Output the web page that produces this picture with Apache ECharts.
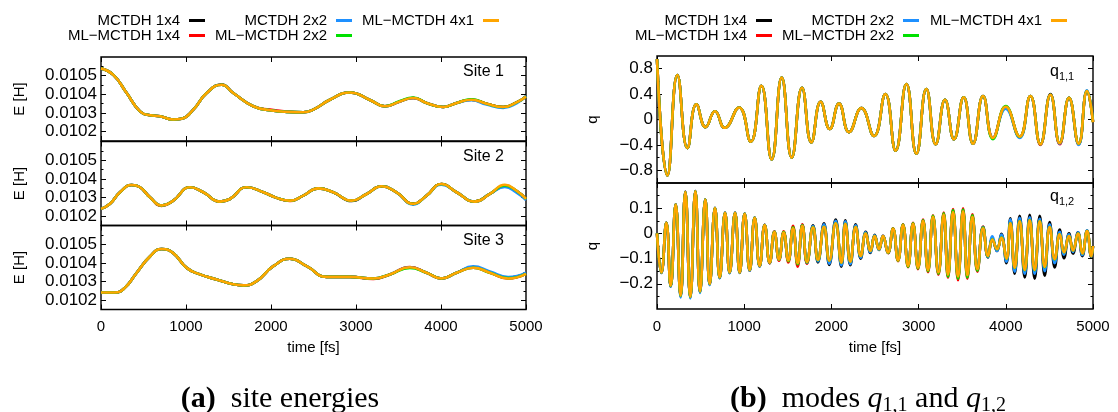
<!DOCTYPE html>
<html>
<head>
<meta charset="utf-8">
<script src="https://cdn.jsdelivr.net/npm/echarts@6/dist/echarts.min.js"></script>
<style>
  html, body { margin: 0; padding: 0; background: #ffffff; }
  #chart { width: 1118px; height: 412px; }
</style>
</head>
<body>
<div id="chart"></div>
<script>
// ---------- series names and colours ----------
const seriesNames = ['MCTDH 1x4', 'ML\u2212MCTDH 1x4', 'MCTDH 2x2', 'ML\u2212MCTDH 2x2', 'ML\u2212MCTDH 4x1'];
const seriesColors = ['#000000', '#ff0000', '#1e90ff', '#00e000', '#ffa500'];

// ---------- tick values ----------
const timeTicks = [0, 1000, 2000, 3000, 4000, 5000];
const siteMajorTicks = [0.0102, 0.0103, 0.0104, 0.0105];
const siteMinorTicks = [0.01025, 0.01035, 0.01045, 0.01055];
const q11MajorTicks = [-0.8, -0.4, 0, 0.4, 0.8];
const q11MinorTicks = [-0.6, -0.2, 0.2, 0.6];
const q12MajorTicks = [-0.2, -0.1, 0, 0.1];
const q12MinorTicks = [-0.25, -0.15, -0.05, 0.05, 0.15];

// ---------- site 1 energy [H] ----------
const site1Time = [0, 145, 302, 459, 576, 694, 850, 949, 1086, 1243, 1420, 1556, 1792, 1988, 2184, 2380, 2497, 2693, 2929, 3164, 3340, 3517, 3673, 3830, 4026, 4183, 4359, 4536, 4732, 4889, 5000];
const site1Mctdh14 = [0.010539, 0.010504, 0.010407, 0.010309, 0.010288, 0.010283, 0.010265, 0.010269, 0.010318, 0.010407, 0.010453, 0.010407, 0.010336, 0.010315, 0.010306, 0.010304, 0.010318, 0.010371, 0.010410, 0.010370, 0.010336, 0.010362, 0.010380, 0.010354, 0.010332, 0.010354, 0.010371, 0.010350, 0.010332, 0.010357, 0.010389];
const site1MlMctdh14 = [0.010539, 0.010504, 0.010407, 0.010309, 0.010288, 0.010283, 0.010265, 0.010269, 0.010318, 0.010407, 0.010451, 0.010407, 0.010336, 0.010318, 0.010308, 0.010304, 0.010318, 0.010371, 0.010410, 0.010370, 0.010336, 0.010362, 0.010380, 0.010354, 0.010332, 0.010354, 0.010371, 0.010350, 0.010332, 0.010357, 0.010389];
const site1Mctdh22 = [0.010539, 0.010504, 0.010407, 0.010309, 0.010288, 0.010283, 0.010265, 0.010269, 0.010318, 0.010407, 0.010451, 0.010407, 0.010336, 0.010315, 0.010306, 0.010304, 0.010318, 0.010371, 0.010410, 0.010370, 0.010336, 0.010362, 0.010380, 0.010354, 0.010332, 0.010354, 0.010368, 0.010345, 0.010327, 0.010352, 0.010392];
const site1MlMctdh22 = [0.010539, 0.010504, 0.010407, 0.010309, 0.010288, 0.010283, 0.010265, 0.010269, 0.010318, 0.010407, 0.010451, 0.010407, 0.010336, 0.010315, 0.010306, 0.010304, 0.010318, 0.010371, 0.010410, 0.010370, 0.010336, 0.010364, 0.010383, 0.010354, 0.010332, 0.010354, 0.010374, 0.010350, 0.010332, 0.010357, 0.010389];
const site1MlMctdh41 = [0.010539, 0.010504, 0.010407, 0.010309, 0.010288, 0.010283, 0.010265, 0.010269, 0.010318, 0.010407, 0.010451, 0.010407, 0.010336, 0.010315, 0.010306, 0.010304, 0.010318, 0.010371, 0.010410, 0.010370, 0.010336, 0.010362, 0.010380, 0.010354, 0.010332, 0.010354, 0.010371, 0.010350, 0.010332, 0.010357, 0.010389];

// ---------- site 2 energy [H] ----------
const site2Time = [0, 106, 223, 361, 459, 576, 714, 850, 1047, 1204, 1400, 1517, 1714, 1910, 2066, 2223, 2380, 2556, 2732, 2948, 3125, 3301, 3477, 3673, 3830, 4006, 4183, 4398, 4575, 4751, 4889, 5000];
const site2Mctdh14 = [0.010239, 0.010266, 0.010328, 0.010367, 0.010355, 0.010301, 0.010257, 0.010283, 0.010355, 0.010328, 0.010278, 0.010292, 0.010355, 0.010328, 0.010298, 0.010283, 0.010310, 0.010349, 0.010328, 0.010281, 0.010319, 0.010360, 0.010328, 0.010266, 0.010310, 0.010372, 0.010328, 0.010278, 0.010319, 0.010360, 0.010334, 0.010290];
const site2MlMctdh14 = [0.010239, 0.010266, 0.010328, 0.010367, 0.010355, 0.010301, 0.010255, 0.010283, 0.010355, 0.010328, 0.010278, 0.010292, 0.010355, 0.010328, 0.010298, 0.010281, 0.010310, 0.010349, 0.010328, 0.010283, 0.010319, 0.010360, 0.010328, 0.010266, 0.010310, 0.010372, 0.010328, 0.010278, 0.010319, 0.010362, 0.010335, 0.010291];
const site2Mctdh22 = [0.010239, 0.010266, 0.010328, 0.010367, 0.010355, 0.010301, 0.010257, 0.010283, 0.010355, 0.010328, 0.010278, 0.010292, 0.010355, 0.010328, 0.010298, 0.010283, 0.010310, 0.010349, 0.010328, 0.010283, 0.010319, 0.010360, 0.010328, 0.010262, 0.010310, 0.010369, 0.010328, 0.010278, 0.010319, 0.010356, 0.010326, 0.010286];
const site2MlMctdh22 = [0.010239, 0.010266, 0.010328, 0.010367, 0.010355, 0.010301, 0.010257, 0.010283, 0.010355, 0.010328, 0.010278, 0.010292, 0.010355, 0.010328, 0.010298, 0.010283, 0.010310, 0.010349, 0.010328, 0.010283, 0.010319, 0.010360, 0.010328, 0.010266, 0.010310, 0.010372, 0.010328, 0.010278, 0.010319, 0.010364, 0.010336, 0.010292];
const site2MlMctdh41 = [0.010239, 0.010266, 0.010328, 0.010367, 0.010355, 0.010301, 0.010257, 0.010283, 0.010355, 0.010328, 0.010278, 0.010292, 0.010355, 0.010328, 0.010298, 0.010283, 0.010310, 0.010349, 0.010328, 0.010283, 0.010319, 0.010360, 0.010328, 0.010266, 0.010310, 0.010372, 0.010328, 0.010278, 0.010319, 0.010368, 0.010336, 0.010292];

// ---------- site 3 energy [H] ----------
const site3Time = [0, 165, 282, 420, 576, 714, 850, 1008, 1164, 1360, 1556, 1674, 1831, 2027, 2223, 2419, 2654, 2929, 3203, 3399, 3634, 3830, 4006, 4183, 4379, 4575, 4790, 5000];
const site3Mctdh14 = [0.010241, 0.010241, 0.010267, 0.010347, 0.010434, 0.010474, 0.010452, 0.010373, 0.010338, 0.010311, 0.010285, 0.010279, 0.010302, 0.010382, 0.010422, 0.010382, 0.010325, 0.010325, 0.010316, 0.010338, 0.010376, 0.010347, 0.010316, 0.010347, 0.010378, 0.010350, 0.010320, 0.010344];
const site3MlMctdh14 = [0.010241, 0.010241, 0.010267, 0.010347, 0.010434, 0.010474, 0.010452, 0.010373, 0.010338, 0.010311, 0.010285, 0.010279, 0.010302, 0.010382, 0.010422, 0.010382, 0.010325, 0.010325, 0.010313, 0.010338, 0.010378, 0.010347, 0.010316, 0.010347, 0.010374, 0.010347, 0.010316, 0.010341];
const site3Mctdh22 = [0.010241, 0.010241, 0.010267, 0.010347, 0.010434, 0.010474, 0.010452, 0.010373, 0.010338, 0.010311, 0.010285, 0.010279, 0.010302, 0.010382, 0.010422, 0.010382, 0.010325, 0.010325, 0.010316, 0.010338, 0.010376, 0.010347, 0.010316, 0.010347, 0.010381, 0.010354, 0.010324, 0.010348];
const site3MlMctdh22 = [0.010241, 0.010241, 0.010267, 0.010347, 0.010434, 0.010474, 0.010452, 0.010373, 0.010338, 0.010311, 0.010285, 0.010279, 0.010302, 0.010382, 0.010422, 0.010382, 0.010325, 0.010325, 0.010316, 0.010338, 0.010372, 0.010347, 0.010316, 0.010347, 0.010374, 0.010347, 0.010318, 0.010341];
const site3MlMctdh41 = [0.010241, 0.010241, 0.010267, 0.010347, 0.010434, 0.010474, 0.010452, 0.010373, 0.010338, 0.010311, 0.010285, 0.010279, 0.010302, 0.010382, 0.010422, 0.010382, 0.010325, 0.010325, 0.010316, 0.010338, 0.010376, 0.010347, 0.010316, 0.010347, 0.010374, 0.010347, 0.010316, 0.010341];

// ---------- mode q(1,1) ----------
const q11Time = [0, 119, 234, 349, 452, 558, 665, 776, 941, 1075, 1197, 1315, 1430, 1545, 1663, 1770, 1877, 1981, 2087, 2202, 2344, 2489, 2619, 2737, 2860, 2975, 3089, 3196, 3303, 3406, 3517, 3624, 3739, 3853, 3999, 4159, 4282, 4397, 4512, 4618, 4725, 4836, 4931, 5000];
const q11Mctdh14 = [0.95, -0.88, 0.70, -0.45, 0.24, -0.12, 0.13, -0.13, 0.19, -0.35, 0.53, -0.63, 0.66, -0.60, 0.50, -0.36, 0.28, -0.15, 0.25, -0.20, 0.18, -0.26, 0.40, -0.49, 0.56, -0.54, 0.48, -0.39, 0.31, -0.31, 0.35, -0.38, 0.37, -0.29, 0.19, -0.28, 0.37, -0.39, 0.40, -0.38, 0.34, -0.39, 0.45, -0.03];
const q11MlMctdh14 = [0.95, -0.88, 0.70, -0.45, 0.24, -0.12, 0.13, -0.13, 0.19, -0.35, 0.53, -0.63, 0.66, -0.60, 0.50, -0.36, 0.28, -0.15, 0.25, -0.20, 0.18, -0.26, 0.40, -0.49, 0.56, -0.54, 0.48, -0.39, 0.31, -0.31, 0.35, -0.38, 0.37, -0.29, 0.20, -0.27, 0.37, -0.40, 0.39, -0.39, 0.34, -0.39, 0.45, -0.04];
const q11Mctdh22 = [0.95, -0.88, 0.70, -0.45, 0.24, -0.12, 0.13, -0.13, 0.19, -0.35, 0.53, -0.63, 0.66, -0.60, 0.50, -0.36, 0.28, -0.15, 0.25, -0.20, 0.18, -0.26, 0.40, -0.49, 0.56, -0.54, 0.48, -0.39, 0.31, -0.31, 0.35, -0.38, 0.37, -0.29, 0.17, -0.29, 0.37, -0.39, 0.39, -0.38, 0.34, -0.40, 0.46, -0.02];
const q11MlMctdh22 = [0.95, -0.88, 0.70, -0.45, 0.24, -0.12, 0.13, -0.13, 0.19, -0.35, 0.53, -0.63, 0.66, -0.60, 0.50, -0.36, 0.28, -0.15, 0.25, -0.20, 0.18, -0.26, 0.40, -0.49, 0.56, -0.54, 0.48, -0.39, 0.31, -0.31, 0.35, -0.38, 0.37, -0.31, 0.21, -0.27, 0.37, -0.39, 0.39, -0.37, 0.34, -0.38, 0.45, -0.04];
const q11MlMctdh41 = [0.95, -0.88, 0.70, -0.45, 0.24, -0.12, 0.13, -0.13, 0.19, -0.35, 0.53, -0.63, 0.66, -0.60, 0.50, -0.36, 0.28, -0.15, 0.25, -0.20, 0.18, -0.26, 0.40, -0.49, 0.56, -0.54, 0.48, -0.39, 0.31, -0.31, 0.35, -0.38, 0.37, -0.29, 0.20, -0.27, 0.37, -0.39, 0.39, -0.37, 0.34, -0.38, 0.45, -0.04];

// ---------- mode q(1,2) ----------
const q12Time = [0, 50, 107, 157, 214, 271, 325, 382, 440, 493,
  554, 604, 665, 719, 780, 833, 895, 948, 1005, 1063,
  1120, 1177, 1235, 1292, 1346, 1399, 1453, 1506, 1560, 1613,
  1667, 1720, 1789, 1846, 1915, 1976, 2049, 2114, 2160, 2217,
  2278, 2336, 2393, 2447, 2496, 2546, 2592, 2649, 2707, 2764,
  2821, 2879, 2936, 2993, 3051, 3108, 3165, 3227, 3288, 3337,
  3395, 3452, 3510, 3559, 3617, 3674, 3739, 3796, 3846, 3899,
  3949, 4007, 4052, 4102, 4159, 4217, 4274, 4331, 4389, 4446,
  4503, 4561, 4618, 4668, 4725, 4771, 4828, 4878, 4932, 4981,
  5000];
const q12Mctdh14 = [0, -0.157, 0.043, -0.211, 0.115, -0.250, 0.165, -0.254, 0.168, -0.233,
  0.135, -0.203, 0.102, -0.177, 0.083, -0.157, 0.083, -0.157, 0.079, -0.148,
  0.063, -0.131, 0.034, -0.118, 0.006, -0.105, 0.004, -0.109, 0.022, -0.120,
  0.034, -0.118, 0.032, -0.115, 0.040, -0.125, 0.055, -0.132, 0.052, -0.126,
  0.036, -0.100, 0.006, -0.078, -0.006, -0.066, -0.010, -0.078, 0.016, -0.105,
  0.031, -0.126, 0.036, -0.133, 0.046, -0.143, 0.063, -0.152, 0.072, -0.160,
  0.082, -0.168, 0.085, -0.163, 0.064, -0.140, 0.026, -0.095, -0.020, -0.070,
  -0.002, -0.118, 0.060, -0.160, 0.070, -0.175, 0.074, -0.180, 0.070, -0.168,
  0.045, -0.135, 0.015, -0.098, 0.000, -0.080, 0.004, -0.090, 0.010, -0.095,
  -0.052];
const q12MlMctdh14 = [0, -0.156, 0.042, -0.210, 0.115, -0.249, 0.165, -0.253, 0.167, -0.232,
  0.134, -0.202, 0.101, -0.176, 0.082, -0.156, 0.082, -0.156, 0.078, -0.147,
  0.062, -0.130, 0.034, -0.118, 0.008, -0.108, 0.008, -0.115, 0.030, -0.132,
  0.036, -0.120, 0.026, -0.107, 0.026, -0.109, 0.040, -0.116, 0.037, -0.111,
  0.024, -0.088, -0.001, -0.070, -0.011, -0.064, -0.010, -0.078, 0.020, -0.110,
  0.036, -0.134, 0.042, -0.142, 0.055, -0.154, 0.072, -0.164, 0.083, -0.176,
  0.097, -0.186, 0.100, -0.180, 0.076, -0.152, 0.026, -0.093, -0.022, -0.064,
  -0.015, -0.102, 0.042, -0.138, 0.049, -0.147, 0.053, -0.147, 0.049, -0.135,
  0.026, -0.104, -0.003, -0.076, -0.010, -0.069, 0.000, -0.081, 0.010, -0.091,
  -0.050];
const q12Mctdh22 = [0, -0.157, 0.042, -0.212, 0.115, -0.254, 0.165, -0.258, 0.168, -0.236,
  0.135, -0.205, 0.102, -0.178, 0.083, -0.158, 0.083, -0.157, 0.079, -0.148,
  0.063, -0.131, 0.034, -0.117, 0.006, -0.104, 0.004, -0.108, 0.021, -0.119,
  0.032, -0.116, 0.029, -0.111, 0.036, -0.120, 0.050, -0.127, 0.048, -0.122,
  0.032, -0.096, 0.004, -0.075, -0.008, -0.065, -0.010, -0.077, 0.017, -0.106,
  0.032, -0.128, 0.037, -0.135, 0.048, -0.145, 0.065, -0.154, 0.074, -0.163,
  0.084, -0.170, 0.087, -0.165, 0.066, -0.143, 0.024, -0.094, -0.012, -0.070,
  -0.005, -0.112, 0.056, -0.152, 0.062, -0.160, 0.064, -0.160, 0.058, -0.150,
  0.036, -0.118, 0.006, -0.085, -0.004, -0.074, 0.004, -0.086, 0.012, -0.092,
  -0.052];
const q12MlMctdh22 = [0, -0.155, 0.042, -0.209, 0.114, -0.248, 0.164, -0.252, 0.167, -0.231,
  0.134, -0.201, 0.101, -0.175, 0.082, -0.155, 0.082, -0.155, 0.078, -0.146,
  0.062, -0.129, 0.033, -0.116, 0.006, -0.104, 0.005, -0.110, 0.024, -0.122,
  0.032, -0.115, 0.025, -0.106, 0.026, -0.108, 0.040, -0.116, 0.038, -0.112,
  0.025, -0.089, -0.001, -0.070, -0.011, -0.063, -0.011, -0.077, 0.019, -0.108,
  0.035, -0.132, 0.040, -0.139, 0.052, -0.150, 0.070, -0.160, 0.080, -0.172,
  0.093, -0.180, 0.095, -0.175, 0.072, -0.148, 0.023, -0.091, -0.023, -0.063,
  -0.016, -0.101, 0.041, -0.137, 0.049, -0.146, 0.053, -0.146, 0.049, -0.134,
  0.025, -0.103, -0.004, -0.075, -0.011, -0.068, -0.001, -0.080, 0.009, -0.090,
  -0.050];
const q12MlMctdh41 = [0, -0.155, 0.042, -0.208, 0.114, -0.247, 0.164, -0.251, 0.167, -0.230,
  0.134, -0.201, 0.101, -0.175, 0.082, -0.155, 0.082, -0.155, 0.078, -0.146,
  0.062, -0.129, 0.033, -0.116, 0.005, -0.103, 0.003, -0.107, 0.020, -0.118,
  0.030, -0.113, 0.024, -0.105, 0.026, -0.108, 0.040, -0.116, 0.038, -0.112,
  0.025, -0.089, -0.001, -0.070, -0.011, -0.063, -0.011, -0.076, 0.018, -0.107,
  0.033, -0.129, 0.038, -0.136, 0.049, -0.146, 0.066, -0.155, 0.075, -0.164,
  0.085, -0.172, 0.088, -0.166, 0.066, -0.142, 0.020, -0.089, -0.024, -0.063,
  -0.017, -0.100, 0.040, -0.136, 0.048, -0.145, 0.052, -0.145, 0.048, -0.133,
  0.025, -0.102, -0.004, -0.075, -0.011, -0.068, -0.001, -0.080, 0.009, -0.090,
  -0.050];

// ---------- layout ----------
const SANS = 'Liberation Sans';
const SERIF = 'Liberation Serif';
const TEXT_FONT = 15;   // legend, axis titles, time ticks
const YTICK_FONT = 17;  // value tick labels

const signed = v => (v < 0 ? '\u2212' + String(Math.abs(v)) : String(v));

const panels = [
  { grid: { left: 101, top: 57, width: 425, height: 84 }, time: site1Time,
    values: [site1Mctdh14, site1MlMctdh14, site1Mctdh22, site1MlMctdh22, site1MlMctdh41],
    yMin: 0.01015, yMax: 0.0106, major: siteMajorTicks, minor: siteMinorTicks,
    fmt: v => v.toFixed(4), yName: 'E [H]', yNameGap: 74, xLabels: false },
  { grid: { left: 101, top: 141.5, width: 425, height: 84 }, time: site2Time,
    values: [site2Mctdh14, site2MlMctdh14, site2Mctdh22, site2MlMctdh22, site2MlMctdh41],
    yMin: 0.01015, yMax: 0.0106, major: siteMajorTicks, minor: siteMinorTicks,
    fmt: v => v.toFixed(4), yName: 'E [H]', yNameGap: 74, xLabels: false },
  { grid: { left: 101, top: 225.5, width: 425, height: 84 }, time: site3Time,
    values: [site3Mctdh14, site3MlMctdh14, site3Mctdh22, site3MlMctdh22, site3MlMctdh41],
    yMin: 0.01015, yMax: 0.0106, major: siteMajorTicks, minor: siteMinorTicks,
    fmt: v => v.toFixed(4), yName: 'E [H]', yNameGap: 74, xLabels: true },
  { grid: { left: 657, top: 56, width: 436, height: 127 }, time: q11Time,
    values: [q11Mctdh14, q11MlMctdh14, q11Mctdh22, q11MlMctdh22, q11MlMctdh41],
    yMin: -1, yMax: 1, major: q11MajorTicks, minor: q11MinorTicks,
    fmt: signed, yName: 'q', yNameGap: 57, xLabels: false },
  { grid: { left: 657, top: 183, width: 436, height: 126 }, time: q12Time,
    values: [q12Mctdh14, q12MlMctdh14, q12Mctdh22, q12MlMctdh22, q12MlMctdh41],
    yMin: -0.3, yMax: 0.2, major: q12MajorTicks, minor: q12MinorTicks,
    fmt: signed, yName: 'q', yNameGap: 57, xLabels: true }
];

const grids = [], xAxes = [], yAxes = [], series = [];

panels.forEach((p, gi) => {
  grids.push(Object.assign({ show: true, borderColor: '#000', borderWidth: 1.4, backgroundColor: 'transparent' }, p.grid));

  const xBase = {
    type: 'value', gridIndex: gi, min: 0, max: 5000,
    axisLine: { show: false, onZero: false }, splitLine: { show: false },
    axisTick: { inside: true, length: 5, customValues: timeTicks, lineStyle: { color: '#000', width: 1 } }
  };
  const xIndex = xAxes.length;
  xAxes.push(Object.assign({}, xBase, {
    position: 'bottom',
    axisLabel: { show: p.xLabels, customValues: timeTicks, formatter: v => String(v), margin: 10,
      fontSize: TEXT_FONT, fontFamily: SANS, color: '#000' },
    name: p.xLabels ? 'time [fs]' : '', nameLocation: 'middle', nameGap: 31,
    nameTextStyle: { fontSize: TEXT_FONT, fontFamily: SANS, color: '#000' }
  }));
  xAxes.push(Object.assign({}, xBase, { position: 'top', axisLabel: { show: false } }));

  const yBase = {
    type: 'value', gridIndex: gi, min: p.yMin, max: p.yMax,
    axisLine: { show: false, onZero: false }, splitLine: { show: false }
  };
  const majorTick = { inside: true, length: 5, customValues: p.major, lineStyle: { color: '#000', width: 1 } };
  const minorTick = { inside: true, length: 2.5, customValues: p.minor, lineStyle: { color: '#000', width: 1 } };
  const yIndex = yAxes.length;
  yAxes.push(Object.assign({}, yBase, {
    position: 'left', axisTick: majorTick,
    axisLabel: { customValues: p.major, formatter: p.fmt, margin: 4, fontSize: YTICK_FONT, fontFamily: SANS, color: '#000' },
    name: p.yName, nameLocation: 'middle', nameRotate: 90, nameGap: p.yNameGap,
    nameTextStyle: { fontSize: TEXT_FONT, fontFamily: SANS, color: '#000' }
  }));
  yAxes.push(Object.assign({}, yBase, { position: 'left', axisTick: minorTick, axisLabel: { show: false } }));
  yAxes.push(Object.assign({}, yBase, { position: 'right', axisTick: majorTick, axisLabel: { show: false } }));
  yAxes.push(Object.assign({}, yBase, { position: 'right', axisTick: minorTick, axisLabel: { show: false } }));

  p.values.forEach((vals, si) => {
    series.push({
      type: 'line', name: seriesNames[si], xAxisIndex: xIndex, yAxisIndex: yIndex,
      data: p.time.map((t, i) => [t, vals[i]]),
      smooth: 0.5, showSymbol: false, symbol: 'none',
      color: seriesColors[si],
      lineStyle: { width: 2.6, color: seriesColors[si] },
      z: 2 + si, animation: false
    });
  });
});

// legend: text on the left, line sample on the right, two rows per chart
const legendSlots = [
  // [series index, right edge of line sample, row centre]
  [0, 205, 21], [1, 205, 36], [2, 352, 21], [3, 352, 36], [4, 499, 21],
  [0, 772, 21], [1, 772, 36], [2, 919, 21], [3, 919, 36], [4, 1067, 21]
];
const legends = legendSlots.map(([si, edge, cy]) => ({
  data: [seriesNames[si]], right: 1118 - edge, top: cy - 8, orient: 'horizontal',
  align: 'right', icon: 'rect', itemWidth: 16, itemHeight: 3, padding: 0,
  selectedMode: false,
  textStyle: { fontSize: TEXT_FONT, fontFamily: SANS, color: '#000', padding: [0, 4, 0, 0] }
}));

const subRich = {
  q: { fontSize: 16, fontFamily: SANS, color: '#000' },
  s: { fontSize: 11, fontFamily: SANS, color: '#000', padding: [9, 0, 0, 0] }
};
const capRich = {
  b: { fontSize: 30, fontFamily: SERIF, fontWeight: 'bold', color: '#000' },
  r: { fontSize: 30, fontFamily: SERIF, color: '#000' },
  qi: { fontSize: 30, fontFamily: SERIF, fontStyle: 'italic', color: '#000' },
  s: { fontSize: 20, fontFamily: SERIF, color: '#000', padding: [14, 0, 0, 0] }
};

const graphics = [
  { type: 'text', x: 504, y: 72, style: { text: 'Site 1', font: '16px "Liberation Sans"', fill: '#000', align: 'right', verticalAlign: 'middle' } },
  { type: 'text', x: 504, y: 157, style: { text: 'Site 2', font: '16px "Liberation Sans"', fill: '#000', align: 'right', verticalAlign: 'middle' } },
  { type: 'text', x: 504, y: 241, style: { text: 'Site 3', font: '16px "Liberation Sans"', fill: '#000', align: 'right', verticalAlign: 'middle' } },
  { type: 'text', x: 1050, y: 72, style: { text: '{q|q}{s|1,1}', rich: subRich, align: 'left', verticalAlign: 'middle' } },
  { type: 'text', x: 1050, y: 197, style: { text: '{q|q}{s|1,2}', rich: subRich, align: 'left', verticalAlign: 'middle' } },
  { type: 'text', x: 280, y: 399, style: { text: '{b|(a)}{r|  site energies}', rich: capRich, align: 'center', verticalAlign: 'middle' } },
  { type: 'text', x: 868, y: 399, style: { text: '{b|(b)}{r|  modes }{qi|q}{s|1,1}{r| and }{qi|q}{s|1,2}', rich: capRich, align: 'center', verticalAlign: 'middle' } }
];

const chart = echarts.init(document.getElementById('chart'), null, { renderer: 'canvas' });
chart.setOption({
  backgroundColor: '#ffffff',
  animation: false,
  grid: grids,
  xAxis: xAxes,
  yAxis: yAxes,
  legend: legends,
  series: series,
  graphic: graphics
});
</script>
</body>
</html>
